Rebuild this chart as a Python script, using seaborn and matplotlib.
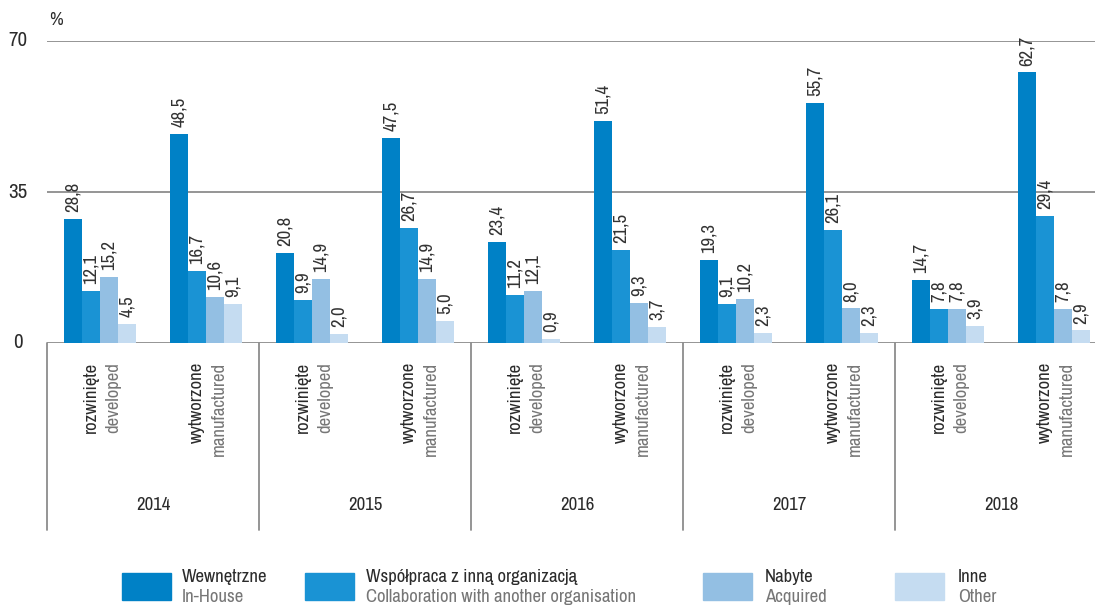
import matplotlib
matplotlib.use("Agg")
import matplotlib.pyplot as plt
from matplotlib import font_manager
from matplotlib.patches import Rectangle
import matplotlib.transforms as mtransforms
import pandas as pd
import seaborn as sns

# ---- data -------------------------------------------------------------
years = ["2014", "2015", "2016", "2017", "2018"]
kinds_pl = ["rozwinięte", "wytworzone"]
kinds_en = ["developed", "manufactured"]

series_pl = ["Wewnętrzne", "Współpraca z inną organizacją", "Nabyte", "Inne"]
series_en = ["In-House", "Collaboration with another organisation", "Acquired", "Other"]
colors = ["#0081C6", "#1A93D4", "#93BFE3", "#C5DCF1"]

# one value per (year, kind) slot, in the order shown along the x axis
in_house = [28.8, 48.5, 20.8, 47.5, 23.4, 51.4, 19.3, 55.7, 14.7, 62.7]
collaboration = [12.1, 16.7, 9.9, 26.7, 11.2, 21.5, 9.1, 26.1, 7.8, 29.4]
acquired = [15.2, 10.6, 14.9, 14.9, 12.1, 9.3, 10.2, 8.0, 7.8, 7.8]
other = [4.5, 9.1, 2.0, 5.0, 0.9, 3.7, 2.3, 2.3, 3.9, 2.9]

yticks = [0, 35, 70]

# ---- fonts ------------------------------------------------------------
sns.set_theme(style="white")
fonts = font_manager.fontManager.ttflist
narrow = [f.name for f in fonts
          if any(w in f.name for w in ("Narrow", "Condensed", "Cond"))]
if narrow:
    plt.rcParams["font.family"] = [sorted(narrow)[0], "DejaVu Sans"]
else:
    plt.rcParams["font.family"] = ["DejaVu Sans"]
    plt.rcParams["font.stretch"] = "condensed"

# ---- long-form table ---------------------------------------------------
slots = [f"{y}-{k}" for y in years for k in kinds_pl]
values = [in_house, collaboration, acquired, other]
rows = []
for s_idx, name in enumerate(series_pl):
    for i, slot in enumerate(slots):
        rows.append({"slot": slot, "series": name, "value": values[s_idx][i]})
df = pd.DataFrame(rows)

# ---- figure -----------------------------------------------------------
W, H = 1095, 607
fig = plt.figure(figsize=(W / 100, H / 100), dpi=100)
ax_left, ax_right = 47, 1107
ax_top, ax_bottom = 41, 343
ax = fig.add_axes([ax_left / W, 1 - ax_bottom / H,
                   (ax_right - ax_left) / W, (ax_bottom - ax_top) / H])

sns.barplot(data=df, x="slot", y="value", hue="series",
            order=slots, hue_order=series_pl, palette=colors,
            width=0.68, saturation=1, gap=0, legend=False,
            edgecolor="none", linewidth=0, ax=ax)

ax.set_xlim(-0.5, len(slots) - 0.5)
ax.set_ylim(0, 70)
ax.set_xlabel("")
ax.set_ylabel("")
ax.set_xticks([])
ax.set_yticks([])
for side in ["top", "right", "left", "bottom"]:
    ax.spines[side].set_visible(False)

grid_color = "#8C8C8C"
for t in yticks:
    ax.axhline(t, color=grid_color, lw=1.3, zorder=0.5)

text_color = "#2B2B2B"
grey = "#767676"
fs = 13.5

# value labels above each bar
for container in ax.containers:
    labels = [f"{b.get_height():.1f}".replace(".", ",") for b in container]
    ax.bar_label(container, labels=labels, rotation=90, padding=5,
                 fontsize=fs, color="#333333")

# y tick labels and unit
for t in yticks:
    _, ypix = ax.transData.transform((0, t))
    fig.text(18 / W, ypix / H, str(t), ha="center", va="center",
             fontsize=15, color=text_color)
fig.text(56 / W, 1 - 20 / H, "%", ha="center", va="center",
         fontsize=fs, color=text_color)

# category and year labels below the axis
blend = mtransforms.blended_transform_factory(ax.transData, ax.transAxes)
ax_h = ax_bottom - ax_top
slot_px = (ax_right - ax_left) / len(slots)
for i, slot in enumerate(slots):
    k = i % 2
    y_top = -19 / ax_h
    ax.text(i - 9 / slot_px, y_top, kinds_pl[k], rotation=90, ha="center",
            va="top", transform=blend, fontsize=fs, color=text_color,
            clip_on=False)
    ax.text(i + 13 / slot_px, y_top, kinds_en[k], rotation=90, ha="center",
            va="top", transform=blend, fontsize=fs, color=grey, clip_on=False)

for j, y in enumerate(years):
    ax.text(2 * j + 0.5, -(505 - ax_bottom) / ax_h, y, ha="center", va="center",
            transform=blend, fontsize=fs, color=text_color, clip_on=False)
    ax.plot([2 * j - 0.5, 2 * j - 0.5], [0, -(530 - ax_bottom) / ax_h],
            transform=blend, color=grid_color, lw=1.3, clip_on=False)

# legend
swatch_x = [122, 305, 703, 895]
text_x = [182, 366, 765, 958]
for sx, tx, c, pl, en in zip(swatch_x, text_x, colors, series_pl, series_en):
    fig.patches.append(Rectangle((sx / W, 1 - 600 / H), 49 / W, 27 / H,
                                 transform=fig.transFigure, color=c))
    fig.text(tx / W, 1 - 577 / H, pl, ha="left", va="center",
             fontsize=fs, color=text_color)
    fig.text(tx / W, 1 - 597 / H, en, ha="left", va="center",
             fontsize=fs, color=grey)

fig.savefig("out.png", dpi=100)
